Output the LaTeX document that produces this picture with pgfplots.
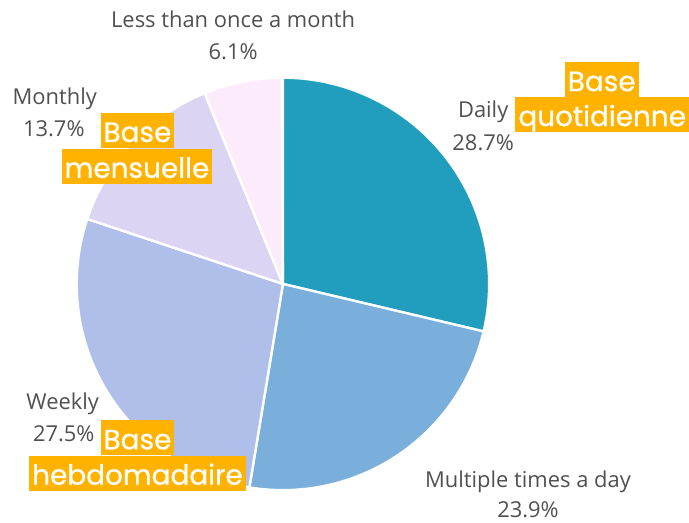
\documentclass[border=0pt]{standalone}
\usepackage{pgfplots}
\pgfplotsset{compat=1.18}
\usepackage{fontspec}
\setmainfont{Open Sans}
\newfontfamily\poppins{Poppins}[FakeBold=0.7]
\definecolor{cDaily}{HTML}{219EBD}
\definecolor{cMulti}{HTML}{7AAEDB}
\definecolor{cWeekly}{HTML}{AFBFEA}
\definecolor{cMonthly}{HTML}{DBD4F2}
\definecolor{cLess}{HTML}{FCEBFA}
\definecolor{lbl}{HTML}{505050}
\definecolor{orangeB}{HTML}{FFB300}
% values (%)
\def\vDaily{28.7}
\def\vMulti{23.9}
\def\vWeekly{27.5}
\def\vMonthly{13.7}
\def\vLess{6.1}
\pgfmathsetmacro{\aA}{90}
\pgfmathsetmacro{\aB}{\aA-3.6*\vDaily}
\pgfmathsetmacro{\aC}{\aB-3.6*\vMulti}
\pgfmathsetmacro{\aD}{\aC-3.6*\vWeekly}
\pgfmathsetmacro{\aE}{\aD-3.6*\vMonthly}
\pgfmathsetmacro{\aF}{\aE-3.6*\vLess}
\begin{document}
\begin{tikzpicture}[
  lab/.style={anchor=base, inner sep=0pt, font=\fontsize{11}{13}\selectfont, text=lbl},
  box/.style={fill=orangeB, text=white, font=\poppins\fontsize{14}{16}\selectfont,
     inner xsep=1.5pt, inner ysep=0pt, text height=14.5pt, text depth=3pt, anchor=center},
]
\begin{axis}[
  width=344.5pt, height=262pt, scale only axis,
  xmin=0, xmax=689, ymin=0, ymax=524,
  hide axis, clip=false,
  wedge/.style={draw=white, line width=1.2pt, line join=round, samples=80, variable=\t},
]
\addplot[draw=none] coordinates {(0,0) (689,524)};
\addplot[wedge, fill=cDaily, domain=\aB:\aA] ({284+207*cos(\t)},{239+207*sin(\t)}) -- (axis cs:284,239) -- cycle;
\addplot[wedge, fill=cMulti, domain=\aC:\aB] ({284+207*cos(\t)},{239+207*sin(\t)}) -- (axis cs:284,239) -- cycle;
\addplot[wedge, fill=cWeekly, domain=\aD:\aC] ({284+207*cos(\t)},{239+207*sin(\t)}) -- (axis cs:284,239) -- cycle;
\addplot[wedge, fill=cMonthly, domain=\aE:\aD] ({284+207*cos(\t)},{239+207*sin(\t)}) -- (axis cs:284,239) -- cycle;
\addplot[wedge, fill=cLess, domain=\aF:\aE] ({284+207*cos(\t)},{239+207*sin(\t)}) -- (axis cs:284,239) -- cycle;

\node[lab] at (axis cs:234,496) {Less than once a month};
\node[lab] at (axis cs:234,464) {6.1\%};
\node[lab] at (axis cs:55,419) {Monthly};
\node[lab] at (axis cs:54,387) {13.7\%};
\node[lab] at (axis cs:485,406) {Daily};
\node[lab] at (axis cs:485,373) {28.7\%};
\node[lab] at (axis cs:63,113) {Weekly};
\node[lab] at (axis cs:64,81) {27.5\%};
\node[lab] at (axis cs:530,35) {Multiple times a day};
\node[lab] at (axis cs:530,5) {23.9\%};

\node[box] at (axis cs:604,444) {Base};
\node[box] at (axis cs:604.5,409) {quotidienne};
\node[box] at (axis cs:138,393) {Base};
\node[box] at (axis cs:137.5,357) {mensuelle};
\node[box] at (axis cs:138,84.5) {Base};
\node[box] at (axis cs:138,49) {hebdomadaire};
\end{axis}
\end{tikzpicture}
\end{document}
